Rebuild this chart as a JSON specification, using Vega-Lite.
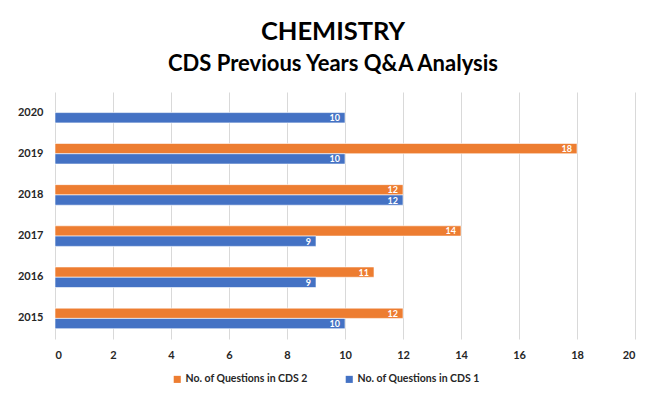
{
  "$schema": "https://vega.github.io/schema/vega-lite/v6.json",
  "autosize": {"type": "none"},
  "width": 580,
  "height": 247,
  "padding": {"left": 55, "top": 92, "right": 37, "bottom": 66},
  "background": "white",
  "title": {
    "text": "CHEMISTRY",
    "subtitle": "CDS Previous Years Q&A Analysis",
    "font": "Lato",
    "fontSize": 25.5,
    "fontWeight": "bold",
    "color": "#000000",
    "subtitleFont": "Lato",
    "subtitleFontSize": 22,
    "subtitleFontWeight": "bold",
    "subtitleColor": "#000000",
    "subtitlePadding": 9,
    "anchor": "middle",
    "dx": -12,
    "offset": 17
  },
  "data": {
    "values": [
      {"year": "2020", "series": "No. of Questions in CDS 1", "value": 10},
      {"year": "2019", "series": "No. of Questions in CDS 2", "value": 18},
      {"year": "2019", "series": "No. of Questions in CDS 1", "value": 10},
      {"year": "2018", "series": "No. of Questions in CDS 2", "value": 12},
      {"year": "2018", "series": "No. of Questions in CDS 1", "value": 12},
      {"year": "2017", "series": "No. of Questions in CDS 2", "value": 14},
      {"year": "2017", "series": "No. of Questions in CDS 1", "value": 9},
      {"year": "2016", "series": "No. of Questions in CDS 2", "value": 11},
      {"year": "2016", "series": "No. of Questions in CDS 1", "value": 9},
      {"year": "2015", "series": "No. of Questions in CDS 2", "value": 12},
      {"year": "2015", "series": "No. of Questions in CDS 1", "value": 10}
    ]
  },
  "encoding": {
    "y": {
      "field": "year",
      "type": "nominal",
      "sort": ["2020", "2019", "2018", "2017", "2016", "2015"],
      "scale": {"paddingInner": 0.5, "paddingOuter": 0.25},
      "axis": {
        "title": null,
        "domain": false,
        "ticks": false,
        "labelPadding": 12,
        "labelFont": "Lato",
        "labelFontSize": 11,
        "labelFontWeight": "bold",
        "labelColor": "#262626"
      }
    },
    "yOffset": {
      "field": "series",
      "type": "nominal",
      "scale": {"domain": ["No. of Questions in CDS 2", "No. of Questions in CDS 1"], "paddingInner": 0, "paddingOuter": 0}
    },
    "x": {
      "field": "value",
      "type": "quantitative",
      "scale": {"domain": [0, 20], "nice": false},
      "axis": {
        "title": null,
        "values": [0, 2, 4, 6, 8, 10, 12, 14, 16, 18, 20],
        "domain": false,
        "ticks": false,
        "grid": true,
        "gridColor": "#d9d9d9",
        "gridWidth": 1,
        "labelPadding": 10,
        "labelFont": "Lato",
        "labelFontSize": 11,
        "labelFontWeight": "bold",
        "labelColor": "#262626"
      }
    }
  },
  "layer": [
    {
      "mark": {"type": "bar", "stroke": "white", "strokeWidth": 0.6},
      "encoding": {
        "color": {
          "field": "series",
          "type": "nominal",
          "scale": {
            "domain": ["No. of Questions in CDS 2", "No. of Questions in CDS 1"],
            "range": ["#ED7D31", "#4472C4"]
          },
          "legend": {
            "title": null,
            "orient": "none",
            "direction": "horizontal",
            "legendX": 117,
            "legendY": 282,
            "symbolType": "square",
            "symbolSize": 50,
            "symbolStrokeWidth": 0,
            "columnPadding": 36,
            "labelFont": "Lato",
            "labelFontSize": 10.5,
            "labelFontWeight": "bold",
            "labelColor": "#262626",
            "labelOffset": 3
          }
        }
      }
    },
    {
      "mark": {
        "type": "text",
        "align": "right",
        "baseline": "middle",
        "dx": -5,
        "dy": 0.5,
        "font": "Lato",
        "fontSize": 9,
        "fontWeight": "bold",
        "color": "white"
      },
      "encoding": {
        "text": {"field": "value", "type": "quantitative"}
      }
    }
  ],
  "config": {
    "view": {"stroke": null}
  }
}
